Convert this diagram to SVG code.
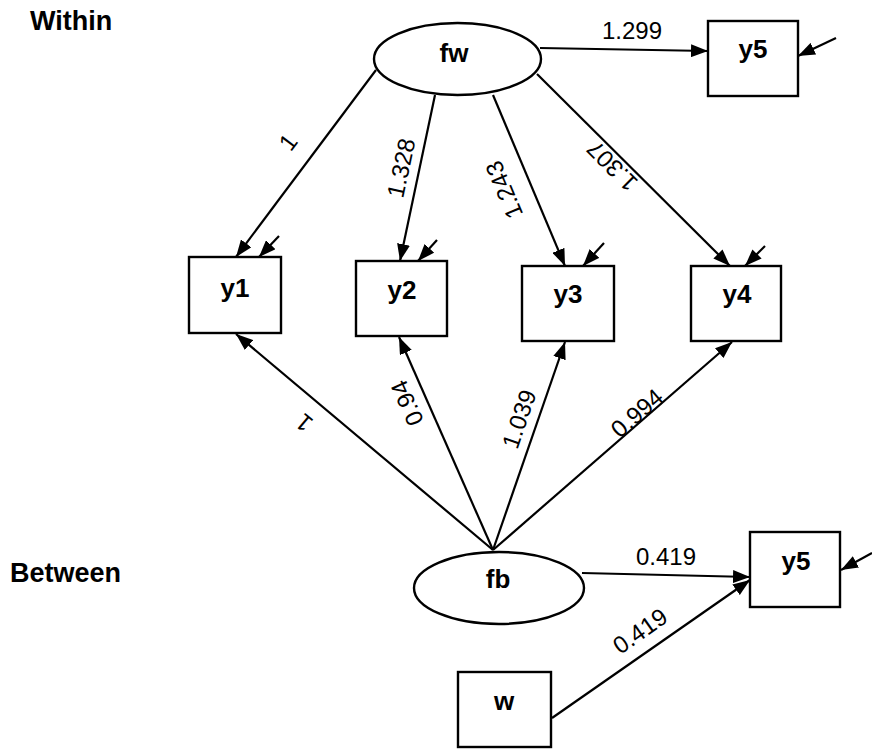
<svg xmlns="http://www.w3.org/2000/svg" width="872" height="751" viewBox="0 0 872 751">
<defs>
<marker id="ah" markerUnits="userSpaceOnUse" markerWidth="17" markerHeight="13" refX="17" refY="6.5" orient="auto">
<path d="M0,0 L17,6.5 L0,13 z" fill="#000"/>
</marker>
<style>
.n{fill:#fff;stroke:#000;stroke-width:2.4}
.nl{font-family:"Liberation Sans",Arial,sans-serif;font-weight:bold;font-size:26px;text-anchor:middle;fill:#000}
.sec{font-family:"Liberation Sans",Arial,sans-serif;font-weight:bold;font-size:27px;fill:#000}
.c line{stroke:#000;stroke-width:2.2;marker-end:url(#ah)}
.el{font-family:"Liberation Sans",Arial,sans-serif;font-size:24px;text-anchor:middle;fill:#000}
</style>
</defs>
<rect width="872" height="751" fill="#fff"/>
<text class="sec" x="30" y="30">Within</text>
<text class="sec" x="10" y="582">Between</text>

<g id="connectors" class="c">
<line x1="540" y1="48" x2="708" y2="51"/>
<line x1="836" y1="38" x2="798" y2="56"/>
<line x1="376" y1="70" x2="236" y2="257"/>
<line x1="435" y1="95" x2="400" y2="261"/>
<line x1="493" y1="95" x2="565" y2="266"/>
<line x1="537" y1="74" x2="730" y2="266"/>
<line x1="279" y1="236" x2="259" y2="257"/>
<line x1="437" y1="240" x2="418" y2="261"/>
<line x1="604" y1="243" x2="583" y2="266"/>
<line x1="765" y1="246" x2="745" y2="266"/>
<line x1="493" y1="550" x2="236" y2="334"/>
<line x1="493" y1="550" x2="399" y2="337"/>
<line x1="493" y1="550" x2="565" y2="342"/>
<line x1="493" y1="550" x2="732" y2="342"/>
<line x1="582" y1="573" x2="750" y2="577"/>
<line x1="552" y1="718" x2="750" y2="580"/>
<line x1="872" y1="553" x2="841" y2="570"/>
</g>

<g id="edge-labels">
<text class="el" x="632" y="39">1.299</text>
<text class="el" transform="translate(288,142) rotate(-53)" dy=".35em">1</text>
<text class="el" transform="translate(401,168) rotate(-78)" dy=".35em">1.328</text>
<text class="el" transform="translate(504,190) rotate(-113)" dy=".35em">1.243</text>
<text class="el" transform="translate(612,166) rotate(-135)" dy=".35em">1.307</text>
<text class="el" transform="translate(304,423) rotate(-140)" dy=".35em">1</text>
<text class="el" transform="translate(407,403) rotate(-114)" dy=".35em">0.94</text>
<text class="el" transform="translate(519,419) rotate(-71)" dy=".35em">1.039</text>
<text class="el" transform="translate(637,413) rotate(-41)" dy=".35em">0.994</text>
<text class="el" x="666" y="565">0.419</text>
<text class="el" transform="translate(640,631) rotate(-35)" dy=".35em">0.419</text>
</g>

<g id="fw"><ellipse class="n" cx="457.5" cy="59" rx="83.5" ry="36"/><text class="nl" x="454" y="62">fw</text></g>
<g id="y5w"><rect class="n" x="708" y="21" width="90" height="75"/><text class="nl" x="753" y="58">y5</text></g>
<g id="y1"><rect class="n" x="189" y="257" width="92" height="76"/><text class="nl" x="235" y="297">y1</text></g>
<g id="y2"><rect class="n" x="356" y="261" width="91" height="75"/><text class="nl" x="402" y="299">y2</text></g>
<g id="y3"><rect class="n" x="522" y="266" width="92" height="75"/><text class="nl" x="568" y="303">y3</text></g>
<g id="y4"><rect class="n" x="691" y="266" width="90" height="75"/><text class="nl" x="737" y="303">y4</text></g>
<g id="fb"><ellipse class="n" cx="499" cy="588" rx="85" ry="36"/><text class="nl" x="498" y="588">fb</text></g>
<g id="y5b"><rect class="n" x="750" y="532" width="90" height="75"/><text class="nl" x="796" y="570">y5</text></g>
<g id="w"><rect class="n" x="458" y="672" width="93" height="75"/><text class="nl" x="504" y="710">w</text></g>
</svg>
